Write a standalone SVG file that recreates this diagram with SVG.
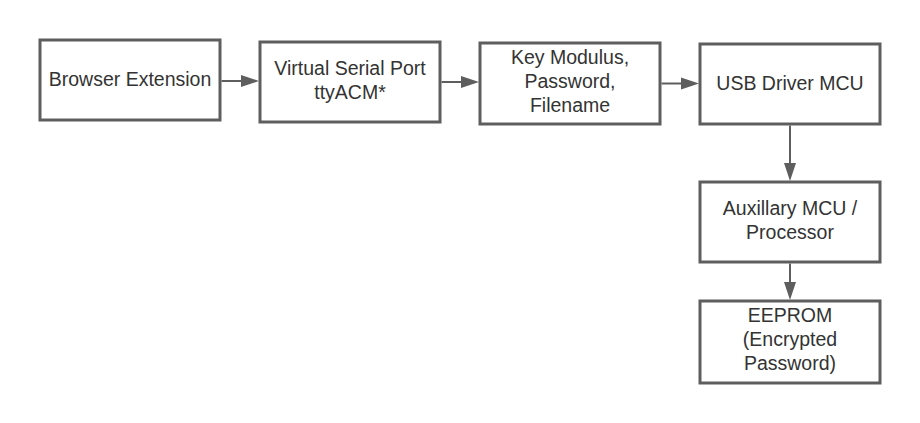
<svg xmlns="http://www.w3.org/2000/svg" width="920" height="423" viewBox="0 0 920 423">
<style>
.box{fill:#fff;stroke:#5e5e5e;stroke-width:3}
.t{font-family:"Liberation Sans",Arial,sans-serif;font-size:19.5px;fill:#333;text-anchor:middle}
.c{stroke:#5e5e5e;stroke-width:2;fill:none}
.h{fill:#5e5e5e}
</style>
<rect width="920" height="423" fill="#fff"/>
<g id="n1"><rect class="box" x="40" y="40" width="180" height="80"/><text class="t" x="130" y="86">Browser Extension</text></g>
<g id="n2"><rect class="box" x="260" y="42" width="180" height="80"/><text class="t" x="350" y="74.5">Virtual Serial Port</text><text class="t" x="350" y="98.5">ttyACM*</text></g>
<g id="n3"><rect class="box" x="480" y="43" width="180" height="81"/><text class="t" x="570" y="63.5">Key Modulus,</text><text class="t" x="570" y="87.5">Password,</text><text class="t" x="570" y="111.5">Filename</text></g>
<g id="n4"><rect class="box" x="700" y="44" width="180" height="80"/><text class="t" x="790" y="90">USB Driver MCU</text></g>
<g id="n5"><rect class="box" x="700" y="182" width="180" height="80"/><text class="t" x="790" y="215">Auxillary MCU /</text><text class="t" x="790" y="238.5">Processor</text></g>
<g id="n6"><rect class="box" x="700" y="301" width="180" height="82"/><text class="t" x="790" y="322">EEPROM</text><text class="t" x="790" y="346">(Encrypted</text><text class="t" x="790" y="369.5">Password)</text></g>
<g id="connectors">
<line class="c" x1="221.5" y1="81" x2="242" y2="81"/><polygon class="h" points="241,75 259,81 241,87"/>
<line class="c" x1="441.5" y1="82" x2="462" y2="82"/><polygon class="h" points="461,76 479,82 461,88"/>
<line class="c" x1="661.5" y1="83.5" x2="682" y2="83.5"/><polygon class="h" points="681,77.5 699,83.5 681,89.5"/>
<line class="c" x1="790" y1="125.5" x2="790" y2="164"/><polygon class="h" points="784,163 790,181 796,163"/>
<line class="c" x1="790" y1="263.5" x2="790" y2="283"/><polygon class="h" points="784,282 790,300 796,282"/>
</g>
</svg>
